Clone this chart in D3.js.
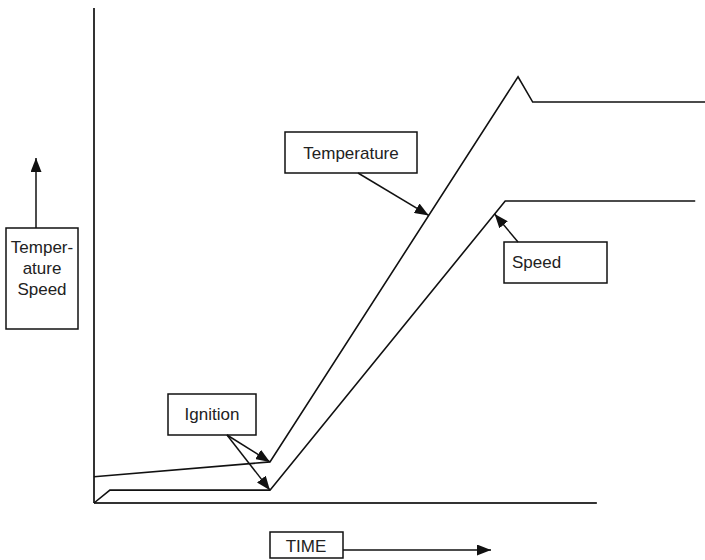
<!DOCTYPE html>
<html>
<head>
<meta charset="utf-8">
<script src="https://cdn.jsdelivr.net/npm/d3@7"></script>
<style>
  body { margin: 0; background: #fff; }
  text { font-family: "Liberation Sans", Arial, sans-serif; fill: #222; }
</style>
</head>
<body>
<script>
// time axis in arbitrary units, values as percent of full scale
var tempTime = [0, 28.8, 69.4, 71.8, 100];
var tempValue = [5.3, 8.3, 86.1, 81, 81];
var speedTime = [0, 2.6, 28.8, 67.3, 98.4];
var speedValue = [0, 2.6, 2.6, 61, 61];
var labels = ['Temperature', 'Speed', 'Ignition', 'TIME'];
var yLabelLines = ['Temper-', 'ature', 'Speed'];

const W = 705, H = 560;
const svg = d3.select('body').append('svg')
    .attr('width', W).attr('height', H);

const x = d3.scaleLinear().domain([0, 100]).range([94, 705]);
const y = d3.scaleLinear().domain([0, 100]).range([503, 8]);

const defs = svg.append('defs');
defs.append('marker')
    .attr('id', 'head')
    .attr('viewBox', '0 0 14 11')
    .attr('refX', 14).attr('refY', 5.5)
    .attr('markerWidth', 14).attr('markerHeight', 11)
    .attr('markerUnits', 'userSpaceOnUse')
    .attr('orient', 'auto')
    .append('path')
    .attr('d', 'M0,0 L14,5.5 L0,11 Z')
    .attr('fill', '#111');

// axes (plain lines, no ticks)
svg.append('line')
    .attr('x1', x(0)).attr('x2', x(0))
    .attr('y1', y(0)).attr('y2', y(100))
    .attr('stroke', '#333').attr('stroke-width', 2);
svg.append('line')
    .attr('x1', x(0)).attr('x2', x(82.3))
    .attr('y1', y(0)).attr('y2', y(0))
    .attr('stroke', '#333').attr('stroke-width', 2);

const line = d3.line().x(d => x(d[0])).y(d => y(d[1]));
const tempPts = tempTime.map((t, i) => [t, tempValue[i]]);
const speedPts = speedTime.map((t, i) => [t, speedValue[i]]);

svg.append('path').datum(tempPts)
    .attr('d', line).attr('fill', 'none')
    .attr('stroke', '#111').attr('stroke-width', 1.6);
svg.append('path').datum(speedPts)
    .attr('d', line).attr('fill', 'none')
    .attr('stroke', '#111').attr('stroke-width', 1.6);

function box(x0, y0, w, h) {
    svg.append('rect')
        .attr('x', x0).attr('y', y0).attr('width', w).attr('height', h)
        .attr('fill', '#fff').attr('stroke', '#111').attr('stroke-width', 1.5);
}
function arrow(x1, y1, x2, y2) {
    svg.append('line')
        .attr('x1', x1).attr('y1', y1).attr('x2', x2).attr('y2', y2)
        .attr('stroke', '#111').attr('stroke-width', 1.5)
        .attr('marker-end', 'url(#head)');
}
function label(txt, tx, ty, anchor) {
    svg.append('text')
        .attr('x', tx).attr('y', ty)
        .attr('text-anchor', anchor || 'middle')
        .attr('font-size', 17)
        .text(txt);
}

// point on a segment between two data points
function onSeg(p, q, f) {
    return [x(p[0] + (q[0] - p[0]) * f), y(p[1] + (q[1] - p[1]) * f)];
}

// Temperature label
box(285, 132, 132, 41);
label(labels[0], 351, 159);
var tp = onSeg(tempPts[1], tempPts[2], 0.64);
arrow(358, 173, tp[0], tp[1]);

// Speed label
box(504, 242, 103, 41);
label(labels[1], 512, 268, 'start');
var sp = onSeg(speedPts[2], speedPts[3], 0.955);
arrow(518, 242, sp[0], sp[1]);

// Ignition label
box(168, 394, 88, 41);
label(labels[2], 212, 420);
arrow(227, 435, x(tempPts[1][0]), y(tempPts[1][1]));
arrow(227, 435, x(speedPts[2][0]), y(speedPts[2][1]));

// y label box
box(6, 228, 72, 101);
yLabelLines.forEach((t, i) => label(t, 42, 253 + i * 21));
arrow(36, 228, 36, 158);

// TIME label
box(270, 532, 73, 26);
label(labels[3], 306, 552);
arrow(343, 550, 491, 550);
</script>
</body>
</html>
